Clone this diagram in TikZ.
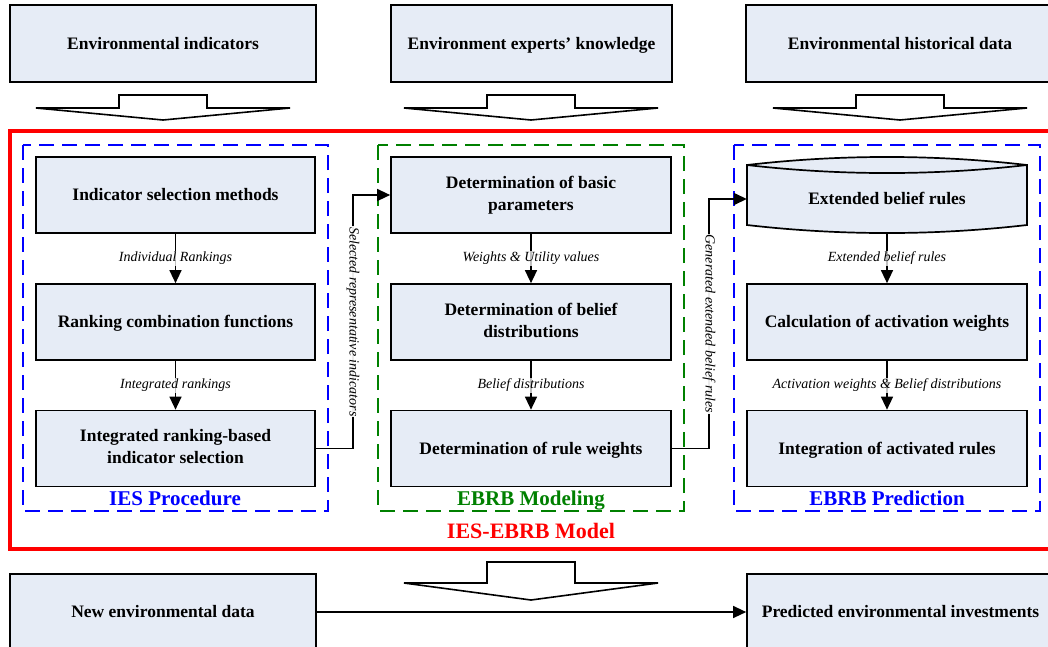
\documentclass[tikz,border=0pt]{standalone}
\usepackage{fontspec}
\setmainfont{Liberation Serif}
\usetikzlibrary{arrows.meta}
\definecolor{boxfill}{RGB}{230,236,246}
\definecolor{ebrbgreen}{RGB}{0,128,0}
\definecolor{pureblue}{RGB}{0,0,255}
\definecolor{purered}{RGB}{255,0,0}
\newcommand{\boxstrut}{\rule[-4pt]{0pt}{19pt}}
\tikzset{
  box/.style={draw=black, line width=1.7pt, fill=boxfill, align=center,
    font=\fontsize{17.5}{22}\selectfont\bfseries, inner sep=0pt,
    execute at begin node={\boxstrut}, execute at end node={\boxstrut}},
  boxin/.style={box, minimum width=280pt, minimum height=76pt},
  boxtop/.style={box, minimum height=77pt},
  lbl/.style={font=\fontsize{14}{16}\selectfont\itshape, fill=white, fill opacity=0.75, text opacity=1, inner sep=1pt},
  vlbl/.style={lbl, fill opacity=0.92, rotate=-90},
  conn/.style={draw=black, line width=1.4pt, -{Triangle[length=13pt,width=12pt]}},
  bigarrow/.style={draw=black, line width=1.6pt, fill=white, line join=miter},
  groupbox/.style={line width=1.8pt, dash pattern=on 15pt off 8pt},
  gtitle/.style={font=\fontsize{21}{24}\selectfont\bfseries, anchor=base},
}
\begin{document}
\begin{tikzpicture}[x=1pt,y=-1pt]
\useasboundingbox (0,0) rectangle (1048,646);
\begin{scope}
\clip (0,0) rectangle (1048,646);

% top boxes
\node[boxtop, minimum width=306pt] (t1) at (163,43.5) {Environmental indicators};
\node[boxtop, minimum width=281pt] (t2) at (531.5,43.5) {Environment experts' knowledge};
\node[boxtop, minimum width=308pt] (t3) at (900,43.5) {Environmental historical data};

% block arrows
\foreach \c in {163,531,900}{
  \draw[bigarrow] (\c-44,95) -- (\c+44,95) -- (\c+44,108) -- (\c+127,108) -- (\c,120) -- (\c-127,108) -- (\c-44,108) -- cycle;
}

% red model box
\draw[purered, line width=3.6pt] (10,131) rectangle (1060,549);
\node[gtitle, text=purered, font=\fontsize{22}{24}\selectfont\bfseries] (mtitle) at (531,538) {IES-EBRB Model};

% group boxes
\draw[groupbox, pureblue] (23,145) rectangle (328,511);
\draw[groupbox, ebrbgreen] (378,145) rectangle (684,511);
\draw[groupbox, pureblue] (734,145) rectangle (1040,511);
\node[gtitle, text=pureblue] (g1) at (175,505) {IES Procedure};
\node[gtitle, text=ebrbgreen] (g2) at (531,505) {EBRB Modeling};
\node[gtitle, text=pureblue] (g3) at (887,505) {EBRB Prediction};

% left column
\node[boxin, minimum width=279pt] (l1) at (175.5,195) {Indicator selection methods};
\node[boxin, minimum width=279pt] (l2) at (175.5,322) {Ranking combination functions};
\node[boxin, minimum width=279pt] (l3) at (175.5,448.5) {Integrated ranking-based\\indicator selection};

% middle column
\node[boxin] (m1) at (531,195) {Determination of basic\\parameters};
\node[boxin] (m2) at (531,322) {Determination of belief\\distributions};
\node[boxin] (m3) at (531,448.5) {Determination of rule weights};

% right column: cylinder
\draw[line width=1.7pt, fill=boxfill]
  (747,165) .. controls (840,154.3) and (934,154.3) .. (1027,165)
  -- (1027,225) .. controls (934,235.7) and (840,235.7) .. (747,225) -- cycle;
\draw[line width=1.7pt]
  (747,165) .. controls (840,175.7) and (934,175.7) .. (1027,165);
\node[minimum width=280pt, minimum height=68pt, inner sep=0pt, font=\fontsize{17.5}{22}\selectfont\bfseries] (r1) at (887,199) {\boxstrut Extended belief rules\boxstrut};
\node[boxin] (r2) at (887,322) {Calculation of activation weights};
\node[boxin] (r3) at (887,448.5) {Integration of activated rules};

% vertical connectors
\draw[conn] (l1) -- node[lbl]{Individual Rankings} (l2);
\draw[conn] (l2) -- node[lbl]{Integrated rankings} (l3);
\draw[conn] (m1) -- node[lbl]{Weights \& Utility values} (m2);
\draw[conn] (m2) -- node[lbl]{Belief distributions} (m3);
\draw[conn] (r1) -- node[lbl]{Extended belief rules} (r2);
\draw[conn] (r2) -- node[lbl]{Activation weights \& Belief distributions} (r3);

% cross-group connectors
\coordinate (sA) at (353,448.5);
\coordinate (sB) at (353,195);
\draw[conn] (l3.east) -- (sA) -- node[vlbl, pos=0.5]{Selected representative indicators} (sB) -- (m1.west);
\coordinate (gA) at (709,448.5);
\coordinate (gB) at (709,199);
\draw[conn] (m3.east) -- (gA) -- node[vlbl, pos=0.5]{Generated extended belief rules} (gB) -- (r1.west);

% bottom
\draw[bigarrow] (487,562) -- (575,562) -- (575,583) -- (658,583) -- (531,600) -- (404,583) -- (487,583) -- cycle;
\node[box, minimum width=306pt, minimum height=76pt] (nd) at (163,612) {New environmental data};
\node[box, minimum width=307pt, minimum height=76pt] (pd) at (900.5,612) {Predicted environmental investments};
\draw[conn] (nd) -- (pd);
\end{scope}
\end{tikzpicture}
\end{document}
